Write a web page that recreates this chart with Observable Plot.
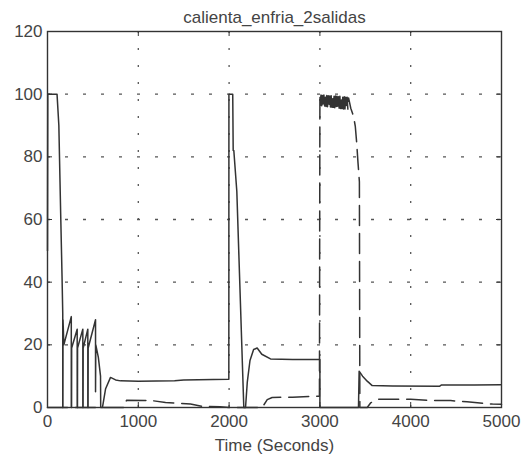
<!DOCTYPE html>
<html><head><meta charset="utf-8">
<script src="https://cdn.jsdelivr.net/npm/d3@7"></script>
<script src="https://cdn.jsdelivr.net/npm/@observablehq/plot@0.6"></script>
<style>body{margin:0;background:#fff} svg{display:block}</style>
</head><body><div id="chart"></div>
<script>
const title = "calienta_enfria_2salidas";
const xLabel = "Time (Seconds)";
const xTicks = [0, 1000, 2000, 3000, 4000, 5000];
const yTicks = [0, 20, 40, 60, 80, 100, 120];

// solid output
const solidTime = [0, 3, 105, 125, 145, 160, 168, 168, 170, 171, 180, 262, 262, 265, 266, 327, 327, 330, 331, 389, 389, 392, 393, 444, 444, 447, 448, 529, 529, 532, 560, 584, 586, 605, 640, 694, 750, 804, 1000, 1400, 1500, 1990, 1997, 1998, 2040, 2045, 2052, 2085, 2162, 2181, 2200, 2230, 2270, 2309, 2360, 2456, 2700, 3000, 3000, 3425, 3432, 3470, 3521, 3576, 3800, 4320, 4340, 4700, 4990];
const solidValue = [50, 100, 100, 90, 62, 42, 30, 0, 0, 28, 20, 29, 0, 0, 19, 25, 0, 0, 19, 25, 0, 0, 19, 25, 0, 0, 19, 28, 5, 20, 16, 10, 0, 0, 6, 9.6, 8.8, 8.5, 8.4, 8.5, 8.8, 9, 9, 100, 100, 82, 82, 69, 0, 0, 8, 15, 18.5, 19, 17, 15.5, 15.3, 15.3, 0, 0, 11.6, 10, 8.4, 7, 6.9, 6.8, 7.2, 7.2, 7.3];

// dashed output
const dashedTime = [0, 850, 870, 1150, 1300, 1575, 1700, 1900, 2000, 2364, 2420, 2474, 2700, 2995, 3000,
  3004, 3012, 3020, 3028, 3036, 3044, 3052, 3060, 3068, 3076, 3084, 3092, 3100, 3108, 3116, 3124, 3132, 3140, 3148, 3156, 3164, 3172, 3180, 3188, 3196, 3204, 3212, 3220, 3228, 3236, 3244, 3252, 3260, 3268, 3276, 3284, 3292, 3300, 3308, 3316,
  3340, 3370, 3390, 3405, 3420, 3435, 3440, 3521, 3560, 3631, 4000, 4200, 4440, 4620, 4900, 5000];
const dashedValue = [0, 0, 2.3, 2.2, 1.6, 1.1, 0.4, 0.2, 0, 0, 2.5, 3.2, 3.3, 3.6, 100,
  96.4, 99.7, 96.3, 99.6, 96.2, 99.7, 96.2, 99.5, 96.1, 99.6, 96.0, 99.5, 96.0, 99.4, 95.9, 99.5, 95.8, 99.4, 95.8, 99.3, 95.7, 99.4, 95.6, 99.3, 95.6, 99.2, 95.5, 99.3, 95.4, 99.2, 95.4, 99.1, 95.3, 99.2, 95.3, 99.0, 95.2, 99.0, 95.2, 98.8,
  95.5, 93, 89.7, 84.5, 78, 72, 0, 0, 1.5, 2.6, 2.6, 2.3, 2.2, 1.8, 1.1, 1.0];

const solid = solidTime.map((t, i) => ({t, v: solidValue[i]}));
const dashed = dashedTime.map((t, i) => ({t, v: dashedValue[i]}));

const W = 522, H = 457, mL = 47, mR = 21, mT = 31, mB = 50;
const fw = W - mL - mR, fh = H - mT - mB;
const ink = "#333";
const gridInk = "#555";

const chart = Plot.plot({
  width: W, height: H,
  marginLeft: mL, marginRight: mR, marginTop: mT, marginBottom: mB,
  style: {fontFamily: "'Liberation Sans', Arial, sans-serif", fontSize: "17px", color: "#444", background: "#fff"},
  x: {domain: [0, 5000], ticks: xTicks},
  y: {domain: [0, 120], ticks: yTicks},
  marks: [
    Plot.ruleX(xTicks.slice(1, -1), {x: d => d, stroke: gridInk, strokeWidth: 1.3, strokeDasharray: "2,15"}),
    Plot.ruleY(yTicks.slice(1, -1), {y: d => d, stroke: gridInk, strokeWidth: 1.3, strokeDasharray: "3,15"}),
    Plot.line(solid, {x: "t", y: "v", stroke: ink, strokeWidth: 1.5}),
    Plot.line(dashed, {x: "t", y: "v", stroke: ink, strokeWidth: 1.5, strokeDasharray: "20,8"}),
    Plot.tickX(xTicks, {x: d => d, insetTop: fh - 5, stroke: ink}),
    Plot.tickX(xTicks, {x: d => d, insetBottom: fh - 5, stroke: ink}),
    Plot.tickY(yTicks, {y: d => d, insetRight: fw - 5, stroke: ink}),
    Plot.tickY(yTicks, {y: d => d, insetLeft: fw - 5, stroke: ink}),
    Plot.frame({stroke: ink, strokeWidth: 1.4}),
    Plot.axisX(xTicks, {tickSize: 0, tickPadding: 7, fontSize: 17, tickFormat: d => String(d), label: null}),
    Plot.axisY(yTicks, {tickSize: 0, tickPadding: 5, fontSize: 17, tickFormat: d => String(d), label: null}),
    Plot.text([title], {text: d => d, frameAnchor: "top", dy: -14, lineAnchor: "middle", fontSize: 17, fill: "#444"}),
    Plot.text([xLabel], {text: d => d, frameAnchor: "bottom", dy: 38, lineAnchor: "middle", fontSize: 17, fill: "#444"})
  ]
});
document.getElementById("chart").appendChild(chart);
</script>
</body></html>
